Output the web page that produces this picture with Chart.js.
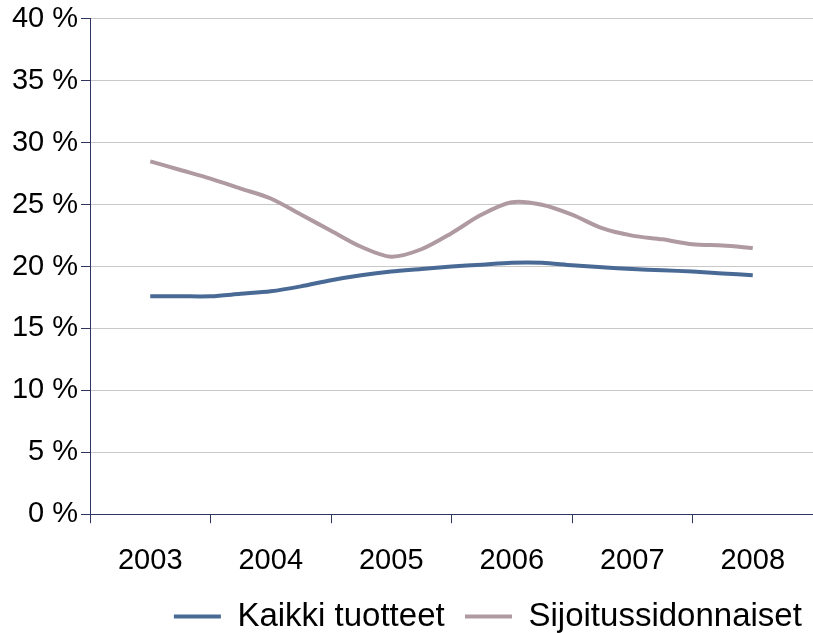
<!DOCTYPE html>
<html>
<head>
<meta charset="utf-8">
<script src="https://cdn.jsdelivr.net/npm/chart.js@4"></script>
<style>
  html, body { margin: 0; padding: 0; background: #fff; }
  #wrap { width: 813px; height: 633px; }
</style>
</head>
<body>
<div id="wrap"><canvas id="chart" width="813" height="633"></canvas></div>
<script>
// year labels, quarterly points between them
const years = ['2003', '2004', '2005', '2006', '2007', '2008'];
const kaikki = [17.6, 17.6, 17.6, 17.8, 18.0, 18.4, 18.9, 19.3, 19.6, 19.8, 20.0,
                20.15, 20.3, 20.3, 20.1, 19.95, 19.8, 19.7, 19.6, 19.45, 19.3];
const sijoitus = [28.5, 27.8, 27.1, 26.3, 25.5, 24.2, 22.9, 21.6, 20.8, 21.4, 22.7,
                  24.2, 25.2, 25.0, 24.2, 23.1, 22.5, 22.2, 21.8, 21.7, 21.5];
const seriesNames = ['Kaikki tuotteet', 'Sijoitussidonnaiset'];

const navy = '#2e3561';
const font = 'Liberation Sans, Arial, sans-serif';

const toPoints = arr => arr.map((v, i) => ({ x: i / 4, y: v }));

const data = {
    labels: years,
    datasets: [
        {
            label: seriesNames[0] + '  ',
            data: toPoints(kaikki),
            borderColor: '#4a6a96',
            backgroundColor: '#4a6a96',
            borderWidth: 4,
            pointRadius: 0,
            tension: 0.3,
            xAxisID: 'xq',
        },
        {
            label: seriesNames[1] + ' ',
            data: toPoints(sijoitus),
            borderColor: '#b09aa2',
            backgroundColor: '#b09aa2',
            borderWidth: 4,
            pointRadius: 0,
            tension: 0.3,
            xAxisID: 'xq',
        },
    ],
};

const config = {
    type: 'line',
    data: data,
    options: {
        responsive: false,
        animation: false,
        layout: { padding: { top: 1, right: 0, bottom: -10, left: 0 } },
        plugins: {
            tooltip: { enabled: false },
            legend: {
                position: 'bottom',
                align: 'end',
                labels: {
                    usePointStyle: true,
                    pointStyle: 'line',
                    pointStyleWidth: 47,
                    color: '#000',
                    font: { family: font, size: 33, lineHeight: 1 },
                    padding: 2,
                },
            },
        },
        scales: {
            x: {
                type: 'category',
                offset: true,
                grid: {
                    offset: true,
                    drawOnChartArea: false,
                    tickLength: 9,
                    tickColor: navy,
                },
                border: { color: navy, width: 1 },
                ticks: {
                    color: '#000',
                    font: { family: font, size: 29 },
                    padding: 20,
                    maxRotation: 0,
                },
            },
            xq: {
                type: 'linear',
                display: false,
                min: -0.5,
                max: 5.5,
            },
            y: {
                min: 0,
                max: 40,
                ticks: {
                    stepSize: 5,
                    color: '#000',
                    font: { family: font, size: 29, lineHeight: 1.1 },
                    padding: 3,
                    callback: v => v + ' %',
                },
                grid: {
                    color: ctx => ctx.tick && ctx.tick.value === 0 ? 'rgba(0,0,0,0)' : '#c8c8c8',
                    tickColor: navy,
                    tickLength: 9,
                },
                border: { color: navy, width: 1 },
                afterFit: scale => { scale.width = 90; },
            },
        },
    },
};

const element = document.getElementById('chart');
const chart = new Chart(element, config);
</script>
</body>
</html>
